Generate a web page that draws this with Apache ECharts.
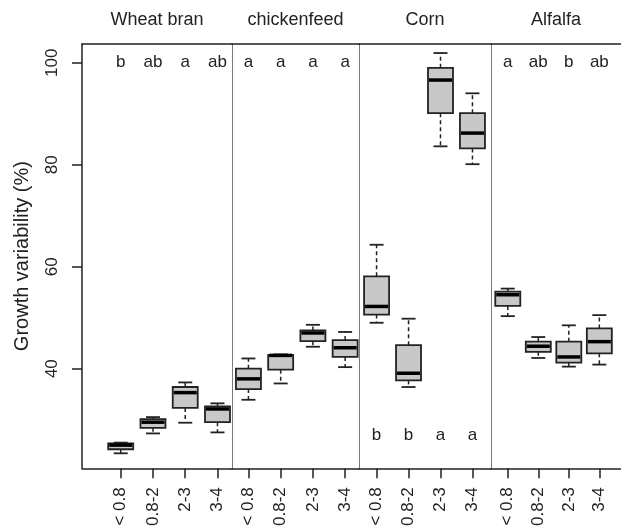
<!DOCTYPE html>
<html>
<head>
<meta charset="utf-8">
<script src="https://cdn.jsdelivr.net/npm/echarts@6/dist/echarts.min.js"></script>
<style>
  html, body { margin: 0; padding: 0; background: #fff; }
  #chart { width: 621px; height: 529px; }
</style>
</head>
<body>
<div id="chart"></div>
<script>
// Substrates (panels) and particle-size classes (boxes within each panel)
const substrates = ['Wheat bran', 'chickenfeed', 'Corn', 'Alfalfa'];
const sizeClasses = ['< 0.8', '0.8-2', '2-3', '3-4'];

// Box statistics per size class: [min, q1, median, q3, max]
const wheatBran   = [[23.4, 24.2, 25.0, 25.35, 25.5], [27.3, 28.4, 29.5, 30.1, 30.5], [29.4, 32.3, 35.3, 36.4, 37.3], [27.5, 29.5, 32.1, 32.6, 33.2]];
const chickenfeed = [[33.9, 36.0, 38.0, 40.0, 42.0], [37.1, 39.8, 42.6, 42.7, 42.8], [44.3, 45.4, 47.0, 47.5, 48.6], [40.3, 42.3, 44.1, 45.6, 47.2]];
const corn        = [[49.0, 50.6, 52.2, 58.1, 64.3], [36.4, 37.7, 39.1, 44.6, 49.8], [83.6, 90.1, 96.6, 99.0, 101.9], [80.1, 83.2, 86.2, 90.1, 94.0]];
const alfalfa     = [[50.3, 52.3, 54.5, 55.1, 55.7], [42.1, 43.3, 44.4, 45.3, 46.2], [40.4, 41.2, 42.3, 45.3, 48.5], [40.8, 43.0, 45.3, 47.9, 50.5]];

// Significance letters and the value level they are printed at
const wheatLetters   = ['b', 'ab', 'a', 'ab'];
const chickenLetters = ['a', 'a', 'a', 'a'];
const cornLetters    = ['b', 'b', 'a', 'a'];
const alfalfaLetters = ['a', 'ab', 'b', 'ab'];
const letterLevels   = [100, 100, 27, 100];

const yTicks = [40, 60, 80, 100];

const boxSets = [wheatBran, chickenfeed, corn, alfalfa];
const letterSets = [wheatLetters, chickenLetters, cornLetters, alfalfaLetters];

// Panel geometry (pixels) and x extent in class-position units
const panels = [
  { left: 82,  width: 150, xMin: -0.2, xMax: 4.45 },
  { left: 232, width: 127, xMin: 0.49, xMax: 4.43 },
  { left: 359, width: 132, xMin: 0.45, xMax: 4.58 },
  { left: 491, width: 135, xMin: 0.45, xMax: 4.71 }
];
const TOP = 44, BOTTOM = 470;
const Y_MIN = 20.47, Y_MAX = 103.67;
const FONT = '"Liberation Sans", Arial, Helvetica, sans-serif';
const INK = '#222';

function renderBox(params, api) {
  const x = api.value(0);
  const cx = api.coord([x, api.value(3)])[0];
  const yMin = api.coord([x, api.value(1)])[1];
  const yQ1 = api.coord([x, api.value(2)])[1];
  const yMed = api.coord([x, api.value(3)])[1];
  const yQ3 = api.coord([x, api.value(4)])[1];
  const yMax = api.coord([x, api.value(5)])[1];
  const bw = 25, cw = 14;
  const whisk = { stroke: INK, lineWidth: 1.5, lineDash: [4, 3] };
  const solid = { stroke: INK, lineWidth: 1.8 };
  return {
    type: 'group',
    children: [
      { type: 'line', shape: { x1: cx, y1: yQ3, x2: cx, y2: yMax }, style: whisk },
      { type: 'line', shape: { x1: cx, y1: yQ1, x2: cx, y2: yMin }, style: whisk },
      { type: 'line', shape: { x1: cx - cw / 2, y1: yMax, x2: cx + cw / 2, y2: yMax }, style: solid },
      { type: 'line', shape: { x1: cx - cw / 2, y1: yMin, x2: cx + cw / 2, y2: yMin }, style: solid },
      { type: 'rect', shape: { x: cx - bw / 2, y: yQ3, width: bw, height: yQ1 - yQ3 },
        style: { fill: '#c8c8c8', stroke: INK, lineWidth: 1.8 } },
      { type: 'line', shape: { x1: cx - bw / 2 + 1, y1: yMed, x2: cx + bw / 2 - 1, y2: yMed },
        style: { stroke: '#000', lineWidth: 3.5 } }
    ]
  };
}

function makeLetterRenderer(letters) {
  return function (params, api) {
    const p = api.coord([api.value(0), api.value(1)]);
    return {
      type: 'text',
      x: p[0], y: p[1],
      style: { text: letters[params.dataIndex], fill: INK, font: '17px ' + FONT,
               textAlign: 'center', textVerticalAlign: 'middle' }
    };
  };
}

const grid = [], xAxis = [], yAxis = [], series = [];

panels.forEach((pn, i) => {
  grid.push({ left: pn.left, top: TOP, width: pn.width, height: BOTTOM - TOP });

  // bottom axis with class labels
  xAxis.push({
    type: 'value', gridIndex: i, min: pn.xMin, max: pn.xMax, position: 'bottom',
    axisLine: { show: true, onZero: false, lineStyle: { color: INK, width: 1.5 } },
    axisTick: { show: true, customValues: [1, 2, 3, 4], length: 10, lineStyle: { color: INK, width: 1.5 } },
    axisLabel: {
      show: true, customValues: [1, 2, 3, 4], rotate: 90, margin: 19,
      color: INK, fontSize: 17, fontFamily: FONT,
      formatter: v => sizeClasses[Math.round(v) - 1]
    },
    splitLine: { show: false }
  });
  // top axis: frame line plus the substrate header
  xAxis.push({
    type: 'value', gridIndex: i, min: pn.xMin, max: pn.xMax, position: 'top',
    name: substrates[i], nameLocation: 'middle', nameGap: 15,
    nameTextStyle: { color: INK, fontSize: 18, fontFamily: FONT },
    axisLine: { show: true, onZero: false, lineStyle: { color: INK, width: 1.5 } },
    axisTick: { show: false }, axisLabel: { show: false }, splitLine: { show: false }
  });

  if (i === 0) {
    yAxis.push({
      type: 'value', gridIndex: i, min: Y_MIN, max: Y_MAX,
      name: 'Growth variability (%)', nameLocation: 'middle', nameGap: 50,
      nameTextStyle: { color: INK, fontSize: 20, fontFamily: FONT },
      axisLine: { show: true, onZero: false, lineStyle: { color: INK, width: 1.5 } },
      axisTick: { show: true, customValues: yTicks, length: 10, lineStyle: { color: INK, width: 1.5 } },
      axisLabel: { show: true, customValues: yTicks, rotate: 90, margin: 21,
                   color: INK, fontSize: 17, fontFamily: FONT },
      splitLine: { show: false }
    });
  } else {
    // panel separator
    yAxis.push({
      type: 'value', gridIndex: i, min: Y_MIN, max: Y_MAX,
      axisLine: { show: true, onZero: false, lineStyle: { color: '#7a7a7a', width: 1 } },
      axisTick: { show: false }, axisLabel: { show: false }, splitLine: { show: false }
    });
  }

  series.push({
    type: 'custom', xAxisIndex: i * 2, yAxisIndex: i,
    renderItem: renderBox,
    encode: { x: 0, y: [1, 2, 3, 4, 5] },
    data: boxSets[i].map((s, k) => [k + 1].concat(s)),
    silent: true
  });
  series.push({
    type: 'custom', xAxisIndex: i * 2, yAxisIndex: i,
    renderItem: makeLetterRenderer(letterSets[i]),
    encode: { x: 0, y: 1 },
    data: letterSets[i].map((_, k) => [k + 1, letterLevels[i]]),
    silent: true
  });
});

const chart = echarts.init(document.getElementById('chart'), null, { renderer: 'canvas' });
chart.setOption({
  animation: false,
  backgroundColor: '#fff',
  grid, xAxis, yAxis, series
});
</script>
</body>
</html>
